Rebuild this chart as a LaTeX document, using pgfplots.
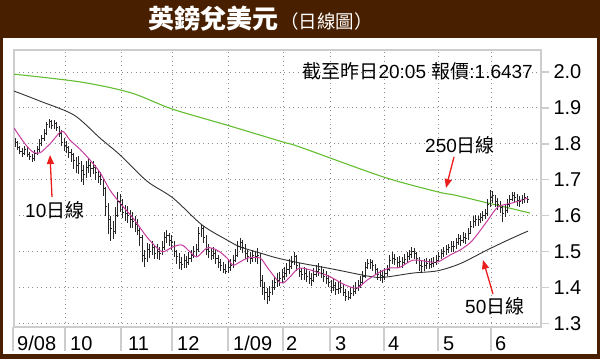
\documentclass[border=0pt]{standalone}
\usepackage{pgfplots}
\pgfplotsset{compat=1.18}
\usepackage{pgfplotstable}
\usetikzlibrary{arrows.meta}
\usepackage{fontspec}
\setmainfont{Liberation Sans}
\newfontfamily\cjk{Noto Sans CJK TC}
\definecolor{brownbar}{RGB}{72,32,0}
\definecolor{maten}{RGB}{200,60,160}
\definecolor{mafifty}{RGB}{50,50,50}
\definecolor{matwofifty}{RGB}{100,190,50}
\definecolor{arrowred}{RGB}{235,30,30}
\definecolor{framegray}{RGB}{205,205,205}
\pgfdeclareplotmark{rtick}{\pgfpathmoveto{\pgfpoint{0pt}{0pt}}\pgfpathlineto{\pgfpoint{1.6pt}{0pt}}\pgfusepathqstroke}

% daily bars: high low close (one row per trading day, 1 Sep 2008 ... 19 Jun 2009)
\pgfplotstableread{
h l c
1.815 1.790 1.805
1.808 1.782 1.790
1.795 1.772 1.780
1.788 1.762 1.772
1.795 1.768 1.785
1.790 1.762 1.770
1.778 1.755 1.765
1.772 1.750 1.758
1.782 1.752 1.772
1.795 1.770 1.785
1.812 1.778 1.800
1.825 1.795 1.815
1.840 1.808 1.830
1.862 1.825 1.855
1.870 1.845 1.862
1.866 1.840 1.850
1.865 1.842 1.858
1.862 1.835 1.845
1.850 1.820 1.830
1.838 1.795 1.805
1.815 1.780 1.795
1.808 1.775 1.790
1.795 1.760 1.775
1.785 1.750 1.770
1.775 1.730 1.755
1.762 1.720 1.740
1.765 1.715 1.745
1.752 1.695 1.725
1.740 1.685 1.715
1.752 1.705 1.735
1.758 1.718 1.740
1.748 1.708 1.730
1.752 1.715 1.735
1.740 1.700 1.720
1.728 1.690 1.710
1.722 1.685 1.700
1.705 1.655 1.675
1.680 1.600 1.625
1.635 1.550 1.590
1.600 1.528 1.565
1.585 1.535 1.555
1.625 1.550 1.600
1.665 1.595 1.640
1.660 1.610 1.630
1.645 1.592 1.610
1.630 1.585 1.605
1.628 1.580 1.600
1.615 1.565 1.590
1.610 1.565 1.585
1.598 1.555 1.575
1.590 1.545 1.560
1.565 1.515 1.540
1.545 1.470 1.490
1.505 1.457 1.480
1.525 1.470 1.505
1.522 1.482 1.500
1.530 1.490 1.510
1.518 1.478 1.495
1.520 1.480 1.500
1.512 1.475 1.495
1.530 1.490 1.510
1.555 1.505 1.540
1.560 1.525 1.545
1.552 1.515 1.530
1.545 1.505 1.525
1.530 1.485 1.500
1.505 1.465 1.485
1.495 1.450 1.470
1.485 1.448 1.465
1.492 1.455 1.475
1.488 1.455 1.470
1.498 1.462 1.482
1.505 1.470 1.490
1.515 1.482 1.500
1.522 1.488 1.505
1.568 1.500 1.550
1.575 1.540 1.565
1.570 1.525 1.540
1.545 1.490 1.505
1.520 1.482 1.500
1.510 1.475 1.490
1.512 1.478 1.495
1.505 1.465 1.480
1.490 1.455 1.470
1.480 1.445 1.460
1.470 1.440 1.450
1.465 1.438 1.445
1.475 1.440 1.455
1.478 1.445 1.460
1.490 1.455 1.475
1.508 1.470 1.490
1.530 1.485 1.515
1.538 1.505 1.525
1.532 1.495 1.510
1.520 1.480 1.495
1.505 1.472 1.485
1.498 1.465 1.480
1.505 1.472 1.490
1.500 1.470 1.485
1.510 1.465 1.490
1.495 1.400 1.420
1.435 1.380 1.400
1.415 1.365 1.385
1.398 1.355 1.375
1.405 1.362 1.385
1.420 1.378 1.400
1.432 1.392 1.415
1.440 1.400 1.420
1.442 1.405 1.425
1.450 1.412 1.430
1.458 1.420 1.440
1.468 1.430 1.450
1.478 1.438 1.458
1.488 1.450 1.470
1.498 1.462 1.485
1.490 1.445 1.460
1.468 1.430 1.445
1.455 1.420 1.435
1.458 1.422 1.440
1.450 1.415 1.430
1.445 1.410 1.425
1.440 1.405 1.420
1.455 1.415 1.435
1.462 1.428 1.445
1.468 1.432 1.450
1.460 1.425 1.440
1.452 1.415 1.430
1.445 1.410 1.425
1.435 1.400 1.415
1.420 1.385 1.400
1.425 1.390 1.405
1.415 1.380 1.395
1.418 1.382 1.398
1.420 1.385 1.400
1.410 1.375 1.387
1.395 1.362 1.375
1.390 1.365 1.372
1.400 1.368 1.384
1.408 1.375 1.390
1.415 1.382 1.398
1.422 1.390 1.405
1.432 1.398 1.415
1.445 1.410 1.430
1.470 1.425 1.455
1.478 1.450 1.468
1.478 1.452 1.470
1.475 1.445 1.462
1.465 1.435 1.450
1.455 1.420 1.435
1.448 1.418 1.432
1.445 1.412 1.430
1.455 1.420 1.440
1.462 1.432 1.450
1.490 1.445 1.475
1.500 1.465 1.482
1.492 1.462 1.478
1.485 1.455 1.470
1.488 1.458 1.472
1.485 1.455 1.470
1.492 1.462 1.478
1.500 1.468 1.485
1.505 1.475 1.492
1.512 1.482 1.500
1.510 1.478 1.495
1.500 1.465 1.482
1.485 1.445 1.462
1.475 1.440 1.457
1.478 1.445 1.462
1.482 1.452 1.468
1.480 1.450 1.465
1.482 1.455 1.468
1.485 1.458 1.470
1.490 1.462 1.476
1.498 1.470 1.485
1.508 1.480 1.495
1.512 1.485 1.500
1.518 1.490 1.505
1.522 1.495 1.510
1.528 1.500 1.515
1.528 1.500 1.513
1.538 1.508 1.525
1.548 1.518 1.535
1.545 1.515 1.530
1.555 1.525 1.540
1.552 1.522 1.535
1.565 1.532 1.550
1.585 1.548 1.570
1.598 1.565 1.585
1.602 1.572 1.590
1.600 1.572 1.588
1.608 1.580 1.595
1.612 1.585 1.600
1.618 1.590 1.605
1.645 1.600 1.630
1.670 1.625 1.650
1.668 1.635 1.655
1.658 1.625 1.640
1.648 1.615 1.630
1.640 1.608 1.624
1.628 1.582 1.605
1.630 1.595 1.615
1.645 1.608 1.630
1.658 1.625 1.645
1.666 1.640 1.657
1.665 1.635 1.650
1.660 1.628 1.643
1.655 1.625 1.640
1.658 1.632 1.645
1.662 1.635 1.650
1.655 1.635 1.644
}\bars

\begin{document}
\begin{tikzpicture}[x=1pt,y=1pt]
% background and frame
\fill[brownbar] (0,0) rectangle (600,-359);
\fill[white] (3,-38) rectangle (597,-354);
% separators of the month labels
\foreach \xx in {13,65,121,172,228,283,330,384,438,491}
  \draw[framegray, line width=2pt] (\xx,-327) -- (\xx,-351);
\begin{axis}[
  at={(14pt,-327pt)}, anchor=south west,
  scale only axis, width=527pt, height=277pt,
  xmin=14, xmax=541, ymin=1.2897, ymax=2.0613,
  axis line style={framegray, line width=2.5pt},
  xtick={65,121,172,228,283,330,384,438,491},
  xticklabels={},
  xtick style={draw=none},
  ytick={1.3,1.4,1.5,1.6,1.7,1.8,1.9,2.0},
  ytick pos=right, yticklabel pos=right,
  tick align=outside, major tick length=8pt,
  ytick style={framegray, line width=1.5pt},
  grid=major,
  major grid style={black!45, line width=0.9pt, dash pattern=on 0.9pt off 3.6pt},
  /pgf/number format/fixed,
  /pgf/number format/fixed zerofill,
  /pgf/number format/precision=1,
  /pgf/number format/assume math mode=true,
  ticklabel style={font=\fontsize{20}{24}\selectfont},
  yticklabel style={xshift=1pt},
  clip=true,
]
% 250-day average
\addplot[matwofifty, line width=1.1pt, smooth] coordinates {
(14,1.994) (81,1.972) (131,1.942) (172,1.897) (227,1.852) (283,1.805) (300,1.791)
(383,1.708) (438,1.666) (455,1.657) (488,1.635) (505,1.624) (530,1.607)};
% 50-day average
\addplot[mafifty, line width=0.9pt, smooth] coordinates {
(14,1.947) (40,1.919) (74,1.880) (100,1.816) (120,1.769) (147,1.696) (173,1.649)
(202,1.574) (227,1.532) (240,1.513) (260,1.496) (277,1.482) (300,1.468) (333,1.451)
(367,1.432) (383,1.428) (413,1.440) (437,1.446) (460,1.466) (487,1.504) (508,1.532) (528,1.557)};
% daily bars
\addplot[black!85, only marks, mark=rtick, mark options={line width=0.9pt},
  error bars/.cd, y dir=both, y explicit, error mark=none,
  error bar style={line width=1pt, black!85}]
  table[x expr=15+2.45*\coordindex, y=c,
        y error plus expr=\thisrow{h}-\thisrow{c},
        y error minus expr=\thisrow{c}-\thisrow{l}] {\bars};
% 10-day average
\addplot[maten, line width=1pt, smooth] coordinates {
(14,1.844) (25,1.800) (33,1.777) (40,1.775) (50,1.800) (62,1.835) (70,1.810) (80,1.785)
(90,1.755) (100,1.720) (110,1.671) (120,1.635) (133,1.593) (147,1.540) (157,1.510)
(163,1.499) (173,1.513) (182,1.518) (190,1.499) (197,1.485) (207,1.510) (217,1.504)
(227,1.482) (233,1.462) (240,1.471) (248,1.482) (260,1.482) (267,1.457) (277,1.421)
(283,1.412) (290,1.429) (300,1.454) (320,1.440) (330,1.430) (345,1.407) (357,1.398)
(367,1.420) (380,1.443) (390,1.454) (400,1.456) (413,1.476) (430,1.471) (438,1.471)
(450,1.490) (460,1.504) (470,1.524) (478,1.550) (488,1.588) (498,1.624) (512,1.635) (528,1.649)};
\end{axis}
% title
\node[anchor=base west, inner sep=0, text=white] at (148,-28)
  {\cjk\bfseries\fontsize{26}{28}\selectfont 英鎊兌美元\hspace{2pt}\fontsize{18.5}{20}\selectfont\mdseries （日線圖）};
% info
\node[anchor=base east, inner sep=0] at (533,-78)
  {\fontsize{19}{22}\selectfont{\cjk 截至昨日}20:05 {\cjk 報價}:1.6437};
% month labels
\foreach \xx/\lab in {17/9\slash 08,70/10,128/11,177/12,233/1\slash 09,286/2,335/3,388/4,443/5,495/6}
  \node[anchor=base west, inner sep=0] at (\xx,-350) {\fontsize{20}{24}\selectfont \lab};
% annotations
\node[anchor=base west, inner sep=0] at (425,-152) {\fontsize{19}{22}\selectfont 250{\cjk 日線}};
\node[anchor=base west, inner sep=0] at (25,-217) {\fontsize{19}{22}\selectfont 10{\cjk 日線}};
\node[anchor=base west, inner sep=0] at (465,-313) {\fontsize{19}{22}\selectfont 50{\cjk 日線}};
\draw[arrowred, line width=1.3pt, -{Triangle[length=9pt,width=7pt]}] (52,-197) -- (50,-155);
\draw[arrowred, line width=1.3pt, -{Triangle[length=9pt,width=7pt]}] (454,-157) -- (446,-188);
\draw[arrowred, line width=1.3pt, -{Triangle[length=9pt,width=7pt]}] (493,-294) -- (483,-260);
\end{tikzpicture}
\end{document}
